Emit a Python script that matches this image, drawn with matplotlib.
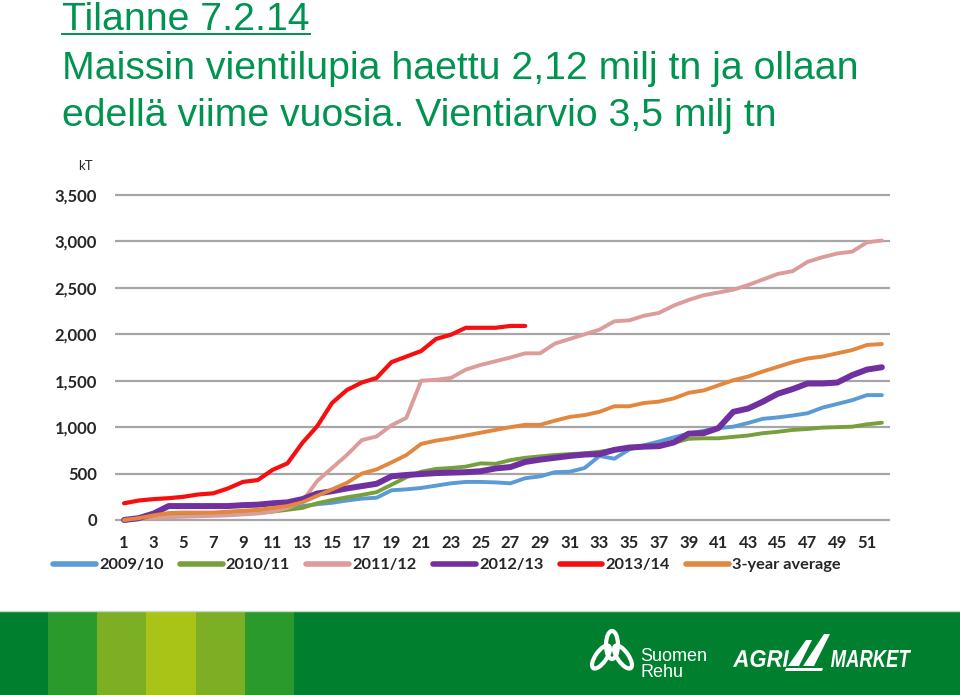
import matplotlib
matplotlib.use("Agg")
import matplotlib.pyplot as plt
from matplotlib.patches import Rectangle, Polygon, Ellipse, PathPatch
from matplotlib.lines import Line2D
from matplotlib.textpath import TextPath
from matplotlib.font_manager import FontProperties
from matplotlib.transforms import Affine2D
from matplotlib.ticker import FuncFormatter

# =========================
# 1. DATA (kT, viikot 1-52)
# =========================

viikot = list(range(1, 53))

v2009 = [0, 10, 30, 50, 60, 65, 70, 75, 80, 90, 100, 120, 150, 170, 185, 210,
         230, 240, 320, 330, 345, 370, 395, 410, 410, 405, 395, 450, 470, 515,
         520, 560, 690, 660, 760, 805, 845, 890, 930, 960, 990, 1005, 1045,
         1090, 1105, 1125, 1150, 1210, 1250, 1290, 1345, 1345]

v2010 = [0, 15, 40, 55, 60, 60, 65, 65, 70, 75, 90, 110, 130, 180, 215, 245,
         270, 300, 380, 460, 520, 550, 560, 575, 610, 605, 645, 670, 685, 700,
         710, 718, 735, 760, 775, 790, 805, 830, 875, 880, 880, 895, 910, 935,
         950, 970, 980, 995, 1000, 1005, 1030, 1048]

v2011 = [0, 10, 20, 30, 35, 40, 45, 50, 60, 70, 90, 130, 200, 420, 560, 700,
         860, 900, 1020, 1100, 1500, 1510, 1530, 1620, 1670, 1710, 1750, 1795,
         1795, 1900, 1950, 2000, 2050, 2140, 2150, 2200, 2230, 2310, 2370,
         2420, 2450, 2480, 2530, 2590, 2650, 2680, 2780, 2830, 2870, 2890,
         2990, 3010]

v2012 = [0, 20, 70, 150, 150, 150, 150, 150, 160, 165, 180, 190, 225, 285,
         310, 340, 365, 390, 470, 485, 495, 505, 510, 515, 525, 555, 570, 625,
         650, 670, 690, 705, 710, 755, 780, 790, 795, 835, 930, 935, 990, 1165,
         1200, 1275, 1360, 1410, 1470, 1470, 1480, 1560, 1620, 1645]

# 2013/14 vain viikkoon 28 asti
v2013 = [180, 210, 225, 235, 250, 275, 287, 340, 410, 430, 540, 610, 830,
         1010, 1260, 1400, 1480, 1530, 1700, 1760, 1820, 1950, 1995, 2070,
         2070, 2070, 2090, 2090]

ka3 = [0, 20, 50, 75, 80, 80, 80, 90, 100, 110, 130, 150, 190, 260, 330, 400,
       500, 545, 620, 700, 820, 855, 880, 910, 940, 970, 1000, 1025, 1025,
       1070, 1110, 1130, 1165, 1225, 1225, 1260, 1275, 1310, 1370, 1395, 1450,
       1505, 1545, 1600, 1650, 1700, 1740, 1760, 1795, 1830, 1885, 1895]

sarjat = ["2009/10", "2010/11", "2011/12", "2012/13", "2013/14", "3-year average"]
arvot = [v2009, v2010, v2011, v2012, v2013, ka3]
varit = ["#5B9BD5", "#77A03C", "#DB9C9A", "#7030A0", "#F50F0F", "#E3873D"]
paksuus = [2.8, 2.8, 2.8, 4.3, 3.0, 2.8]

y_tikit = list(range(0, 3501, 500))
x_tikit = list(range(1, 52, 2))

otsikko = "Tilanne 7.2.14"
teksti_rivit = ["Maissin vientilupia haettu 2,12 milj tn ja ollaan",
                "edellä viime vuosia. Vientiarvio 3,5 milj tn"]

W, H = 960, 695
VIHREA = "#009450"
KOKO = 28.3

fig = plt.figure(figsize=(W / 100, H / 100), dpi=100)
# pikselit ylhaalta (kuten kuvassa) -> figure-koordinaatit
pix_flip = Affine2D().scale(1, -1).translate(0, H).scale(1 / W, 1 / H) + fig.transFigure
pix = Affine2D().scale(1 / W, 1 / H) + fig.transFigure

# =========================
# 2. OTSIKKO
# =========================

def piirra_otsikko():
    t = fig.text(62 / W, 1 - 30 / H, otsikko, fontsize=KOKO, color=VIHREA,
                 family="Liberation Sans", va="baseline")
    fig.canvas.draw()
    bb = t.get_window_extent()
    fig.add_artist(Line2D([bb.x0 / W, bb.x1 / W], [1 - 34 / H, 1 - 34 / H],
                          transform=fig.transFigure, color=VIHREA, lw=1.4))
    for i, rivi in enumerate(teksti_rivit):
        fig.text(62 / W, 1 - (79 + i * 47) / H, rivi, fontsize=KOKO, color=VIHREA,
                 family="Liberation Sans", va="baseline")

# =========================
# 3. KAAVIO
# =========================

def piirra_kaavio():
    yk = 325 / 3500  # px per kT
    pad = 30
    ala = 520 + pad * yk
    yla = 195 - pad * yk
    ax = fig.add_axes([115 / W, 1 - ala / H, 775 / W, (ala - yla) / H])

    for nimi, y, c, lw in zip(sarjat, arvot, varit, paksuus):
        ax.plot(viikot[:len(y)], y, color=c, lw=lw, label=nimi,
                solid_joinstyle="round", solid_capstyle="round")

    ax.set_ylim(-pad, 3500 + pad)
    ax.set_xlim(1 + (115 - 124) / 14.86, 1 + (890 - 124) / 14.86)
    ax.set_yticks(y_tikit)
    ax.set_xticks(x_tikit)
    ax.yaxis.set_major_formatter(FuncFormatter(lambda v, p: f"{v:,.0f}"))
    ax.yaxis.grid(True, color="#A6A6A6", lw=1.6)
    ax.set_axisbelow(True)
    for s in ax.spines.values():
        s.set_visible(False)
    ax.tick_params(axis="y", length=0, pad=13, labelsize=12, labelcolor="#262626")
    ax.tick_params(axis="x", length=0, pad=9, labelsize=12, labelcolor="#262626")
    for lab in ax.get_xticklabels() + ax.get_yticklabels():
        lab.set_fontfamily("Lato")
        lab.set_fontweight("bold")

    fig.text(85 / W, 1 - 166 / H, "kT", fontsize=9.5, family="Lato",
             color="#262626", ha="center", va="center")

    leg = fig.legend(loc="center", bbox_to_anchor=(447 / W, 1 - 565 / H), ncol=6,
                     frameon=False, handlelength=2.6, handletextpad=0.2,
                     columnspacing=1.0,
                     prop=FontProperties(family="Lato", weight="bold", size=11.8))
    for l in leg.get_lines():
        l.set_linewidth(4)
    for t in leg.get_texts():
        t.set_color("#262626")

# =========================
# 4. ALAPALKKI JA LOGOT
# =========================

def polku_teksti(s, x, y_ala, leveys, korkeus, prop):
    tp = TextPath((0, 0), s, size=1, prop=prop)
    e = tp.get_extents()
    tr = (Affine2D().translate(-e.x0, -e.y0)
          .scale(leveys / e.width, korkeus / e.height)
          .translate(x, H - y_ala))
    fig.add_artist(PathPatch(tr.transform_path(tp), transform=pix,
                             facecolor="white", edgecolor="none"))

def piirra_alapalkki():
    fig.add_artist(Rectangle((0, 0), 1, (H - 612) / H, transform=fig.transFigure,
                             facecolor="#00802F", edgecolor="none"))
    fig.add_artist(Line2D([0, 1], [(H - 611) / H] * 2, transform=fig.transFigure,
                          color="#C9D9C9", lw=1))
    raidat = ["#2B9A2C", "#7DAF24", "#A9C417", "#7DAF24", "#2B9A2C"]
    for i, c in enumerate(raidat):
        fig.add_artist(Rectangle(((48 + i * 49.2) / W, 0), 49.2 / W, (H - 612) / H,
                                 transform=fig.transFigure, facecolor=c,
                                 edgecolor="none"))

    # Suomen Rehu -kuvake (yksinkertaistettu)
    for cx, cy, w, h, a in [(612, 645, 12, 28, 0), (601, 657, 11, 27, 35),
                            (623, 657, 11, 27, -35)]:
        fig.add_artist(Ellipse((cx, cy), w, h, angle=a, transform=pix_flip,
                               fill=False, edgecolor="white", lw=3))
    fig.text(640 / W, 1 - 661 / H, "Suomen", fontsize=13, color="white",
             family="Liberation Sans", va="baseline")
    fig.text(640 / W, 1 - 677 / H, "Rehu", fontsize=13, color="white",
             family="Liberation Sans", va="baseline")

    bi = FontProperties(family="Liberation Sans", weight="bold", style="italic")
    polku_teksti("AGRI", 733, 667, 56, 17, bi)
    polku_teksti("MARKET", 831, 667, 80, 17, bi)
    for p in [[(788, 666), (799, 666), (812, 640), (806, 640)],
              [(803, 666), (814, 666), (830, 634), (824, 634)]]:
        fig.add_artist(Polygon(p, closed=True, transform=pix_flip,
                               facecolor="white", edgecolor="none"))
    fig.add_artist(Polygon([(786, 668), (823, 668), (822, 671), (785, 671)],
                           closed=True, transform=pix_flip, facecolor="white",
                           edgecolor="none"))

# =========================
# MAIN
# =========================

def main():
    piirra_otsikko()
    piirra_kaavio()
    piirra_alapalkki()
    fig.savefig("out.png", dpi=100, facecolor="white")

if __name__ == "__main__":
    main()
